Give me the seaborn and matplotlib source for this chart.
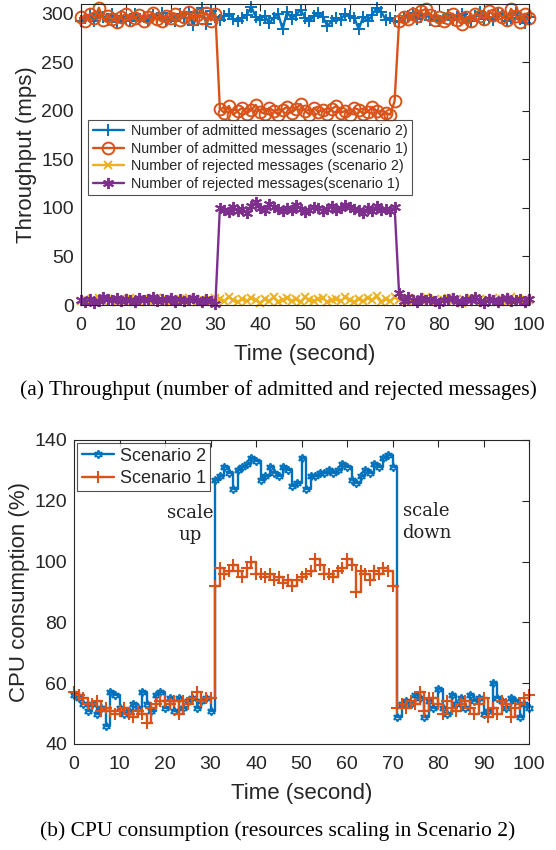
import numpy as np
import pandas as pd
import matplotlib
matplotlib.use("Agg")
import matplotlib.pyplot as plt
import seaborn as sns

# ---------------- data ----------------
time_s = list(range(0, 101))

adm_s2 = [293,296,299,292,301,297,294,300,291,298,
          296,293,300,295,297,292,299,296,301,294,
          297,292,300,296,302,288,298,306,289,303,
          297,294,298,300,295,292,296,299,307,297,
          294,298,290,296,300,284,302,295,299,304,
          296,292,298,301,297,287,293,296,294,300,
          298,296,284,297,292,299,306,302,294,296,
          293,291,296,298,301,295,297,300,294,298,
          292,296,299,294,297,300,296,293,298,302,
          295,297,294,300,298,293,296,301,295,290,
          297]

adm_s1 = [297,293,300,296,306,294,298,295,291,297,
          300,294,296,299,293,297,301,295,292,298,
          296,300,294,297,302,295,299,296,301,293,
          300,
          202,198,205,196,200,203,197,201,206,199,
          197,203,200,196,201,204,198,202,207,200,
          196,203,199,201,197,202,205,198,200,196,
          203,201,197,199,204,200,195,198,196,210,
          292,297,295,300,298,303,305,299,294,297,
          292,296,300,294,289,297,293,300,298,295,
          303,299,301,297,294,305,298,291,300,296]

rej_s2 = [4,6,3,5,7,4,6,5,3,6,
          4,7,5,3,6,4,5,7,4,6,
          3,5,6,4,7,5,3,6,4,5,
          7,6,4,8,5,3,6,4,7,5,
          2,6,4,8,3,5,7,4,6,3,
          8,5,4,6,7,3,5,6,4,8,
          5,3,6,4,7,5,9,3,6,4,
          8,5,4,7,3,6,5,8,4,6,
          3,5,7,4,6,2,5,7,4,6,
          3,5,7,4,6,3,8,5,4,6,
          5]

rej_s1 = [5,3,6,2,4,8,6,5,7,4,
          6,5,3,7,5,6,8,4,6,5,
          7,3,6,4,5,7,5,3,6,4,
          1,
          100,98,96,101,97,99,95,102,106,100,
          98,104,101,99,97,100,98,103,99,96,
          98,101,100,97,99,102,98,100,103,101,
          99,98,95,100,97,102,98,99,97,101,
          12,4,8,5,3,7,5,6,4,2,
          5,6,7,4,3,6,5,8,4,2,
          6,5,3,6,7,4,5,6,3,6]

cpu_s2 = [56,55,53,51,53,50,52,46,57,56,
          52,50,51,53,52,57,53,51,56,57,
          52,55,51,55,52,54,55,52,54,55,
          51,
          127,128,131,129,124,130,131,132,134,133,
          127,128,131,129,128,131,130,125,126,134,
          124,128,128,129,129,130,129,130,132,131,
          127,126,128,130,129,132,131,134,135,131,
          49,53,54,53,56,55,49,54,52,58,
          52,50,56,53,55,52,56,54,55,50,
          51,60,55,54,52,55,54,49,53,52]

cpu_s1 = [57,56,55,53,53,54,51,52,51,50,
          51,52,50,49,51,50,47,52,53,54,
          54,53,54,50,54,53,55,57,54,55,
          55,
          92,98,96,97,99,97,95,98,100,96,
          96,95,96,94,95,93,94,92,94,95,
          96,97,101,99,96,96,95,97,98,101,
          99,90,97,96,94,97,96,98,97,92,
          52,53,52,54,53,57,51,55,55,53,
          50,54,52,51,53,54,52,50,53,55,
          49,52,50,54,53,49,52,53,55,56]

labels_top = ["Number of admitted messages (scenario 2)",
              "Number of admitted messages (scenario 1)",
              "Number of rejected messages (scenario 2)",
              "Number of rejected messages(scenario 1)"]
labels_bot = ["Scenario 2", "Scenario 1"]

for arr in (adm_s2, adm_s1, rej_s2, rej_s1, cpu_s2, cpu_s1):
    assert len(arr) == len(time_s), len(arr)

# ---------------- style ----------------
sns.set_style("white")
plt.rcParams['font.family'] = ['Liberation Sans', 'DejaVu Sans']

C_BLUE = "#0072BD"
C_ORNG = "#D95319"
C_YELL = "#EDB120"
C_PURP = "#7E2F8E"
AX_COL = "#262626"

fig = plt.figure(figsize=(5.56, 8.50), dpi=100)
ax1 = fig.add_axes([81/556, 1 - 305/850, 448/556, 301/850])
ax2 = fig.add_axes([74/556, 1 - 744/850, 455/556, 304/850])

top_df = pd.DataFrame({"t": time_s, "a2": adm_s2, "a1": adm_s1, "r2": rej_s2, "r1": rej_s1})
bot_df = pd.DataFrame({"t": time_s, "c2": cpu_s2, "c1": cpu_s1})

top_specs = [("a2", C_BLUE, "+", 9, labels_top[0]),
             ("a1", C_ORNG, "o", 8.5, labels_top[1]),
             ("r2", C_YELL, "x", 6, labels_top[2]),
             ("r1", C_PURP, (6, 2, 0), 8, labels_top[3])]
for col, c, m, ms, lab in top_specs:
    sns.lineplot(data=top_df, x="t", y=col, ax=ax1, color=c, marker=m,
                 markersize=ms, markerfacecolor="none", markeredgecolor=c,
                 markeredgewidth=1.4, linewidth=1.7, label=lab, clip_on=False)

sns.lineplot(data=bot_df, x="t", y="c2", ax=ax2, color=C_BLUE, drawstyle="steps-post",
             marker=(6, 1, 0), markersize=6, markerfacecolor="none", markeredgecolor=C_BLUE,
             markeredgewidth=1.2, linewidth=1.7, label=labels_bot[0], clip_on=False)
sns.lineplot(data=bot_df, x="t", y="c1", ax=ax2, color=C_ORNG, drawstyle="steps-post",
             marker="+", markersize=9, markeredgecolor=C_ORNG,
             markeredgewidth=1.5, linewidth=1.7, label=labels_bot[1], clip_on=False)

def style_axes(ax, ylim, yticks, ylabel):
    ax.set_xlim(0, 100)
    ax.set_ylim(*ylim)
    ax.set_xticks(range(0, 101, 10))
    ax.set_yticks(yticks)
    ax.tick_params(axis="both", direction="in", length=5, width=0.8, labelsize=14,
                   colors=AX_COL, top=True, right=True)
    ax.tick_params(axis="x", pad=8.5)
    ax.tick_params(axis="y", pad=5)
    for s in ax.spines.values():
        s.set_color(AX_COL)
        s.set_linewidth(0.8)
        s.set_visible(True)
    ax.set_xlabel("Time (second)", fontsize=16, color=AX_COL, labelpad=7)
    ax.set_ylabel(ylabel, fontsize=16, color=AX_COL, labelpad=3)
    ax.grid(False)

style_axes(ax1, (0, 310), range(0, 301, 50), "Throughput (mps)")
style_axes(ax2, (40, 140), range(40, 141, 20), "CPU consumption (%)")

leg1 = ax1.legend(loc="upper left", bbox_to_anchor=(0.016, 0.615), borderaxespad=0,
                  fontsize=10.4, frameon=True, fancybox=False, edgecolor=AX_COL,
                  handlelength=2.2, labelspacing=0.25, borderpad=0.3, handletextpad=0.45)
leg1.get_frame().set_linewidth(0.8)
leg2 = ax2.legend(loc="upper left", bbox_to_anchor=(0.007, 0.99), borderaxespad=0,
                  fontsize=13, frameon=True, fancybox=False, edgecolor=AX_COL,
                  handlelength=1.8, labelspacing=0.3, borderpad=0.25, handletextpad=0.3)
leg2.get_frame().set_linewidth(0.8)

ax2.text(25.5, 112.5, "scale\nup", ha="center", va="center", fontsize=13,
         family="DejaVu Serif", color="#222222", linespacing=1.3)
ax2.text(77.5, 113.0, "scale\ndown", ha="center", va="center", fontsize=13,
         family="DejaVu Serif", color="#222222", linespacing=1.3)

fig.text(0.5, 1 - 390/850, "(a) Throughput (number of admitted and rejected messages)",
         ha="center", va="center", fontsize=15.5, family="Liberation Serif", color="black")
fig.text(0.5, 1 - 831/850, "(b) CPU consumption (resources scaling in Scenario 2)",
         ha="center", va="center", fontsize=15.5, family="Liberation Serif", color="black")

fig.savefig("out.png", dpi=100)
